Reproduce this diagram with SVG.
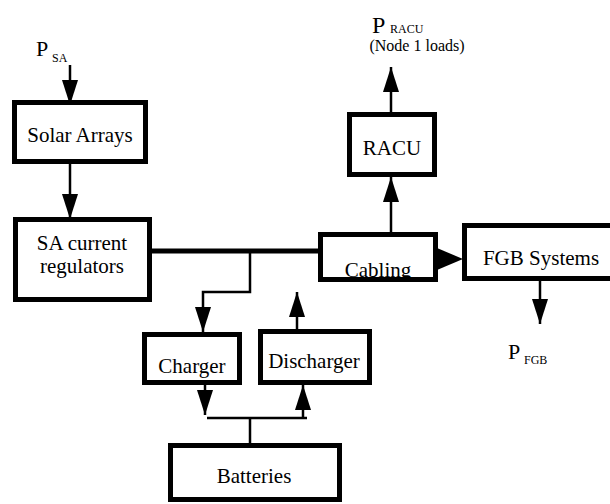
<svg xmlns="http://www.w3.org/2000/svg" width="610" height="504" viewBox="0 0 610 504">
<style>
.box{fill:#fff;stroke:#000;stroke-width:5}
text{font-family:'Liberation Serif','DejaVu Serif',serif;fill:#000}
.lbl{font-size:21px;text-anchor:middle}
.ln{fill:none;stroke:#000;stroke-width:2.5}
.bus{fill:none;stroke:#000;stroke-width:5}
</style>
<defs>
<marker id="ah" viewBox="0 0 25 16" refX="25" refY="8" markerWidth="25" markerHeight="16" markerUnits="userSpaceOnUse" orient="auto">
<path d="M0,0 L25,8 L0,16 z" fill="#000"/>
</marker>
</defs>
<g id="connectors">
<line class="ln" x1="70" y1="65" x2="70" y2="105" marker-end="url(#ah)"/>
<line class="ln" x1="70" y1="163" x2="70" y2="219" marker-end="url(#ah)"/>
<line class="bus" x1="150" y1="251" x2="320" y2="251"/>
<line class="ln" x1="391" y1="233" x2="391" y2="177" marker-end="url(#ah)"/>
<line class="ln" x1="391" y1="113" x2="391" y2="67" marker-end="url(#ah)"/>
<polygon points="437,248 463,259 437,270" fill="#000"/>
<line class="ln" x1="540" y1="280" x2="540" y2="324" marker-end="url(#ah)"/>
<polyline class="ln" points="250,251 250,292 203,292 203,332" marker-end="url(#ah)"/>
<line class="ln" x1="297" y1="331" x2="297" y2="292" marker-end="url(#ah)"/>
<line class="ln" x1="205" y1="385" x2="205" y2="415" marker-end="url(#ah)"/>
<line class="ln" x1="207" y1="418" x2="307" y2="418"/>
<line class="ln" x1="303" y1="418" x2="303" y2="385" marker-end="url(#ah)"/>
<line class="ln" x1="250" y1="418" x2="250" y2="445"/>
</g>
<g id="p_sa">
<text x="36" y="56" font-size="22">P</text>
<text x="52" y="62" font-size="12">SA</text>
</g>
<g id="p_racu">
<text x="372" y="33" font-size="24">P</text>
<text x="390" y="33" font-size="12">RACU</text>
<text x="417" y="51" font-size="16" text-anchor="middle">(Node 1 loads)</text>
</g>
<g id="p_fgb">
<text x="508" y="359" font-size="22">P</text>
<text x="524" y="364" font-size="12">FGB</text>
</g>
<g id="solar_arrays">
<rect class="box" x="14.5" y="102.5" width="131" height="59"/>
<text class="lbl" x="80" y="142">Solar Arrays</text>
</g>
<g id="sa_regulators">
<rect class="box" x="15.5" y="219.5" width="134" height="80"/>
<text class="lbl" x="82" y="250">SA current</text>
<text class="lbl" x="82" y="273">regulators</text>
</g>
<g id="racu">
<rect class="box" x="349.5" y="114.5" width="85" height="60"/>
<text class="lbl" x="392" y="155">RACU</text>
</g>
<g id="cabling">
<rect class="box" x="320.5" y="234.5" width="115" height="45"/>
<text class="lbl" x="378" y="277">Cabling</text>
</g>
<g id="fgb_systems">
<rect class="box" x="464.5" y="225.5" width="152" height="53"/>
<text class="lbl" x="541" y="265">FGB Systems</text>
</g>
<g id="charger">
<rect class="box" x="144.5" y="334.5" width="95" height="48"/>
<text class="lbl" x="192" y="373">Charger</text>
</g>
<g id="discharger">
<rect class="box" x="260.5" y="331.5" width="109" height="51"/>
<text class="lbl" x="314" y="368">Discharger</text>
</g>
<g id="batteries">
<rect class="box" x="170.5" y="445.5" width="169" height="54"/>
<text class="lbl" x="254" y="483">Batteries</text>
</g>
</svg>
